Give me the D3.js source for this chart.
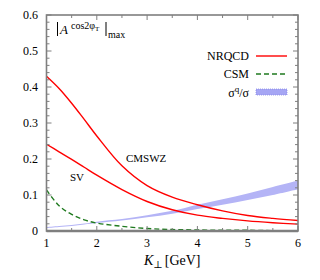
<!DOCTYPE html>
<html>
<head>
<meta charset="utf-8">
<script src="https://cdn.jsdelivr.net/npm/d3@7"></script>
<style>
  body { margin: 0; background: #fff; }
</style>
</head>
<body>
<svg width="320" height="280" font-family="'Liberation Serif', 'DejaVu Serif', serif"></svg>
<script>
const kValues = [1, 1.25, 1.5, 1.75, 2, 2.5, 3, 3.5, 4, 4.5, 5, 5.5, 6];
const cmswz = [0.43, 0.396, 0.355, 0.31, 0.264, 0.181, 0.126, 0.094, 0.073, 0.056, 0.043, 0.035, 0.029];
const sv = [0.241, 0.22, 0.199, 0.177, 0.155, 0.115, 0.082, 0.059, 0.044, 0.035, 0.028, 0.023, 0.019];
const csm = [0.114, 0.07, 0.046, 0.031, 0.022, 0.013, 0.007, 0.004, 0.003, 0.002, 0.002, 0.001, 0.001];
const bandLow = [0.008, 0.011, 0.014, 0.018, 0.022, 0.029, 0.038, 0.048, 0.061, 0.073, 0.086, 0.100, 0.116];
const bandHigh = [0.011, 0.014, 0.017, 0.021, 0.026, 0.033, 0.044, 0.056, 0.073, 0.088, 0.104, 0.122, 0.140];
const xTicks = [1, 2, 3, 4, 5, 6];
const yTicks = [0, 0.1, 0.2, 0.3, 0.4, 0.5, 0.6];

const svg = d3.select('svg');
const x = d3.scaleLinear().domain([1, 6]).range([46.5, 298]);
const y = d3.scaleLinear().domain([0, 0.6]).range([231, 15]);
const frame = '#7f7f7f';

// band
const band = d3.area()
    .x((d, i) => x(kValues[i]))
    .y0((d, i) => y(bandLow[i]))
    .y1((d, i) => y(bandHigh[i]))
    .curve(d3.curveCatmullRom);
svg.append('path').datum(kValues)
    .attr('d', band)
    .attr('fill', '#b4b4f6');

const line = vals => d3.line()
    .x((d, i) => x(kValues[i]))
    .y(d => y(d))
    .curve(d3.curveCatmullRom)(vals);

svg.append('path').attr('d', line(cmswz))
    .attr('fill', 'none').attr('stroke', '#f00').attr('stroke-width', 1.4);
svg.append('path').attr('d', line(sv))
    .attr('fill', 'none').attr('stroke', '#f00').attr('stroke-width', 1.4);
svg.append('path').attr('d', line(csm))
    .attr('fill', 'none').attr('stroke', '#1f7a1f').attr('stroke-width', 1.4)
    .attr('stroke-dasharray', '5,3');

// frame
svg.append('rect')
    .attr('x', x(1)).attr('y', y(0.6))
    .attr('width', x(6) - x(1)).attr('height', y(0) - y(0.6))
    .attr('fill', 'none').attr('stroke', frame).attr('stroke-width', 1.6);
svg.append('line')
    .attr('x1', x(1)).attr('x2', x(6)).attr('y1', y(0)).attr('y2', y(0))
    .attr('stroke', frame).attr('stroke-width', 2.5);

// ticks
const ticks = svg.append('g').attr('stroke', frame).attr('stroke-width', 1);
d3.range(1, 6.01, 0.5).forEach(v => {
    const len = Number.isInteger(v) ? 5 : 3;
    ticks.append('line').attr('x1', x(v)).attr('x2', x(v)).attr('y1', y(0)).attr('y2', y(0) - len);
    ticks.append('line').attr('x1', x(v)).attr('x2', x(v)).attr('y1', y(0.6)).attr('y2', y(0.6) + len);
});
d3.range(0, 0.601, 0.02).forEach(v => {
    const major = Math.abs(v * 10 - Math.round(v * 10)) < 1e-6;
    const len = major ? 5 : 3;
    ticks.append('line').attr('x1', x(1)).attr('x2', x(1) + len).attr('y1', y(v)).attr('y2', y(v));
    ticks.append('line').attr('x1', x(6)).attr('x2', x(6) - len).attr('y1', y(v)).attr('y2', y(v));
});

// tick labels
svg.append('g').selectAll('text').data(yTicks).enter().append('text')
    .attr('x', 38).attr('y', d => y(d) + 4)
    .attr('text-anchor', 'end').attr('font-size', 12)
    .text(d => d === 0 ? '0' : d3.format('.1f')(d));
svg.append('g').selectAll('text').data(xTicks).enter().append('text')
    .attr('x', d => x(d)).attr('y', 247)
    .attr('text-anchor', 'middle').attr('font-size', 12)
    .text(d => d);

// axis title
const xt = svg.append('text').attr('x', 144).attr('y', 265).attr('font-size', 14);
xt.append('tspan').attr('font-style', 'italic').text('K');
xt.append('tspan').attr('font-size', 10).attr('dy', 3).text('⊥');
xt.append('tspan').attr('dy', -3).attr('dx', 2).text('[GeV]');

// panel label
svg.append('line').attr('x1', 57.5).attr('x2', 57.5).attr('y1', 22).attr('y2', 36)
    .attr('stroke', '#000').attr('stroke-width', 1);
svg.append('line').attr('x1', 106).attr('x2', 106).attr('y1', 22).attr('y2', 36)
    .attr('stroke', '#000').attr('stroke-width', 1);
const pl = svg.append('text').attr('x', 60).attr('y', 34).attr('font-size', 13);
pl.append('tspan').attr('font-style', 'italic').text('A');
pl.append('tspan').attr('font-size', 10).attr('dy', -5).attr('dx', 3).text('cos2φ');
pl.append('tspan').attr('font-size', 7).attr('dy', 2).text('T');
svg.append('text').attr('x', 108).attr('y', 38).attr('font-size', 10).text('max');

// curve labels
svg.append('text').attr('x', 126).attr('y', 162).attr('font-size', 11).text('CMSWZ');
svg.append('text').attr('x', 70).attr('y', 181).attr('font-size', 11).text('SV');

// legend
const lg = svg.append('g');
lg.append('text').attr('x', 249).attr('y', 60).attr('text-anchor', 'end').attr('font-size', 12).text('NRQCD');
lg.append('line').attr('x1', 256).attr('x2', 287).attr('y1', 56).attr('y2', 56)
    .attr('stroke', '#f00').attr('stroke-width', 1.4);
lg.append('text').attr('x', 249).attr('y', 78).attr('text-anchor', 'end').attr('font-size', 12).text('CSM');
lg.append('line').attr('x1', 256).attr('x2', 287).attr('y1', 74).attr('y2', 74)
    .attr('stroke', '#1f7a1f').attr('stroke-width', 1.4).attr('stroke-dasharray', '5,3');
const sq = lg.append('text').attr('x', 249).attr('y', 97).attr('text-anchor', 'end').attr('font-size', 12);
sq.append('tspan').text('σ');
sq.append('tspan').attr('font-size', 9).attr('dy', -5).text('q');
sq.append('tspan').attr('dy', 5).text('/σ');
lg.append('rect').attr('x', 256).attr('y', 89).attr('width', 31).attr('height', 6)
    .attr('fill', '#a6a6f4').attr('stroke', '#8a8ae8').attr('stroke-width', 0.8)
    .attr('stroke-dasharray', '1,1');
</script>
</body>
</html>
